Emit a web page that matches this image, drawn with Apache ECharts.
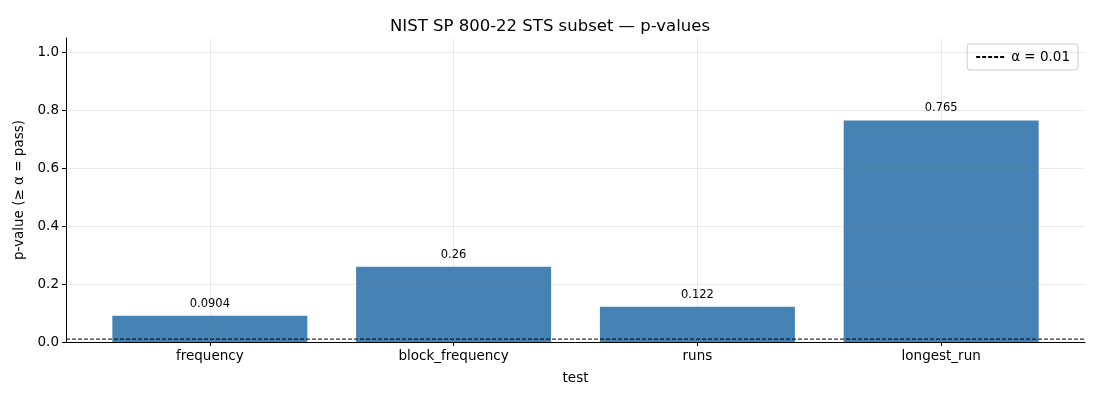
<!DOCTYPE html>
<html>
<head>
<meta charset="utf-8">
<script src="https://cdn.jsdelivr.net/npm/echarts@6/dist/echarts.min.js"></script>
<style>
html, body { margin: 0; padding: 0; background: #fff; }
#chart { width: 1100px; height: 400px; }
</style>
</head>
<body>
<div id="chart"></div>
<script>
// 数据
var tests = ['frequency', 'block_frequency', 'runs', 'longest_run'];
var pValues = [0.0904, 0.26, 0.122, 0.765];
var barLabels = ['0.0904', '0.26', '0.122', '0.765'];
var alpha = 0.01;
var yTicks = [0, 0.2, 0.4, 0.6, 0.8, 1.0];

var font = 'DejaVu Sans';
var chart = echarts.init(document.getElementById('chart'));

var xMin = -0.59, xMax = 3.59;
var positions = tests.map(function (t, i) { return i; });
var gridColor = 'rgba(128,128,128,0.2)';

chart.setOption({
	animation: false,
	textStyle: { fontFamily: font },
	title: {
		text: 'NIST SP 800-22 STS subset — p-values',
		left: 'center',
		top: 13,
		textStyle: { fontFamily: font, fontSize: 16.5, fontWeight: 'normal', color: '#000' }
	},
	legend: {
		right: 22,
		top: 44,
		data: [{ name: 'α = ' + alpha, itemStyle: { opacity: 0 } }],
		itemWidth: 30,
		itemHeight: 10,
		padding: [6, 8, 6, 8],
		borderColor: '#cccccc',
		borderWidth: 1,
		borderRadius: 3,
		textStyle: { fontFamily: font, fontSize: 13.5, color: '#000' }
	},
	grid: { left: 66, right: 15, top: 38, bottom: 58 },
	xAxis: {
		type: 'value',
		min: xMin,
		max: xMax,
		z: 3,
		name: 'test',
		nameLocation: 'middle',
		nameGap: 29,
		nameTextStyle: { fontFamily: font, fontSize: 13.5, color: '#000' },
		axisLine: { onZero: false, lineStyle: { color: '#000', width: 1 } },
		axisTick: { show: true, customValues: positions, length: 4, lineStyle: { color: '#000' } },
		axisLabel: {
			customValues: positions,
			fontFamily: font, fontSize: 13.5, color: '#000', margin: 7,
			formatter: function (v) { return tests[Math.round(v)]; }
		},
		splitLine: { show: true, lineStyle: { color: gridColor, width: 0.8 } }
	},
	yAxis: {
		type: 'value',
		min: 0,
		max: 1.05,
		z: 3,
		name: 'p-value (≥ α = pass)',
		nameLocation: 'middle',
		nameGap: 40,
		nameTextStyle: { fontFamily: font, fontSize: 13.5, color: '#000' },
		axisLine: { show: true, onZero: false, lineStyle: { color: '#000', width: 1 } },
		axisTick: { show: true, customValues: yTicks, length: 4, lineStyle: { color: '#000' } },
		axisLabel: {
			customValues: yTicks,
			fontFamily: font, fontSize: 13.5, color: '#000', margin: 7,
			formatter: function (v) { return v.toFixed(1); }
		},
		splitLine: { show: true, lineStyle: { color: gridColor, width: 0.8 } }
	},
	series: [
		{
			name: 'p-value',
			type: 'bar',
			barWidth: 195,
			data: pValues.map(function (v, i) { return [positions[i], v]; }),
			itemStyle: { color: '#4682b4' },
			label: {
				show: true,
				position: 'top',
				distance: 6,
				fontFamily: font,
				fontSize: 11.5,
				color: '#000',
				formatter: function (p) { return barLabels[p.dataIndex]; }
			}
		},
		{
			name: 'α = ' + alpha,
			type: 'line',
			symbol: 'none',
			z: 4,
			data: [[xMin, alpha], [xMax, alpha]],
			lineStyle: { color: '#000', width: 1, type: [4, 2] },
			itemStyle: { color: '#000' }
		}
	]
});
</script>
</body>
</html>
